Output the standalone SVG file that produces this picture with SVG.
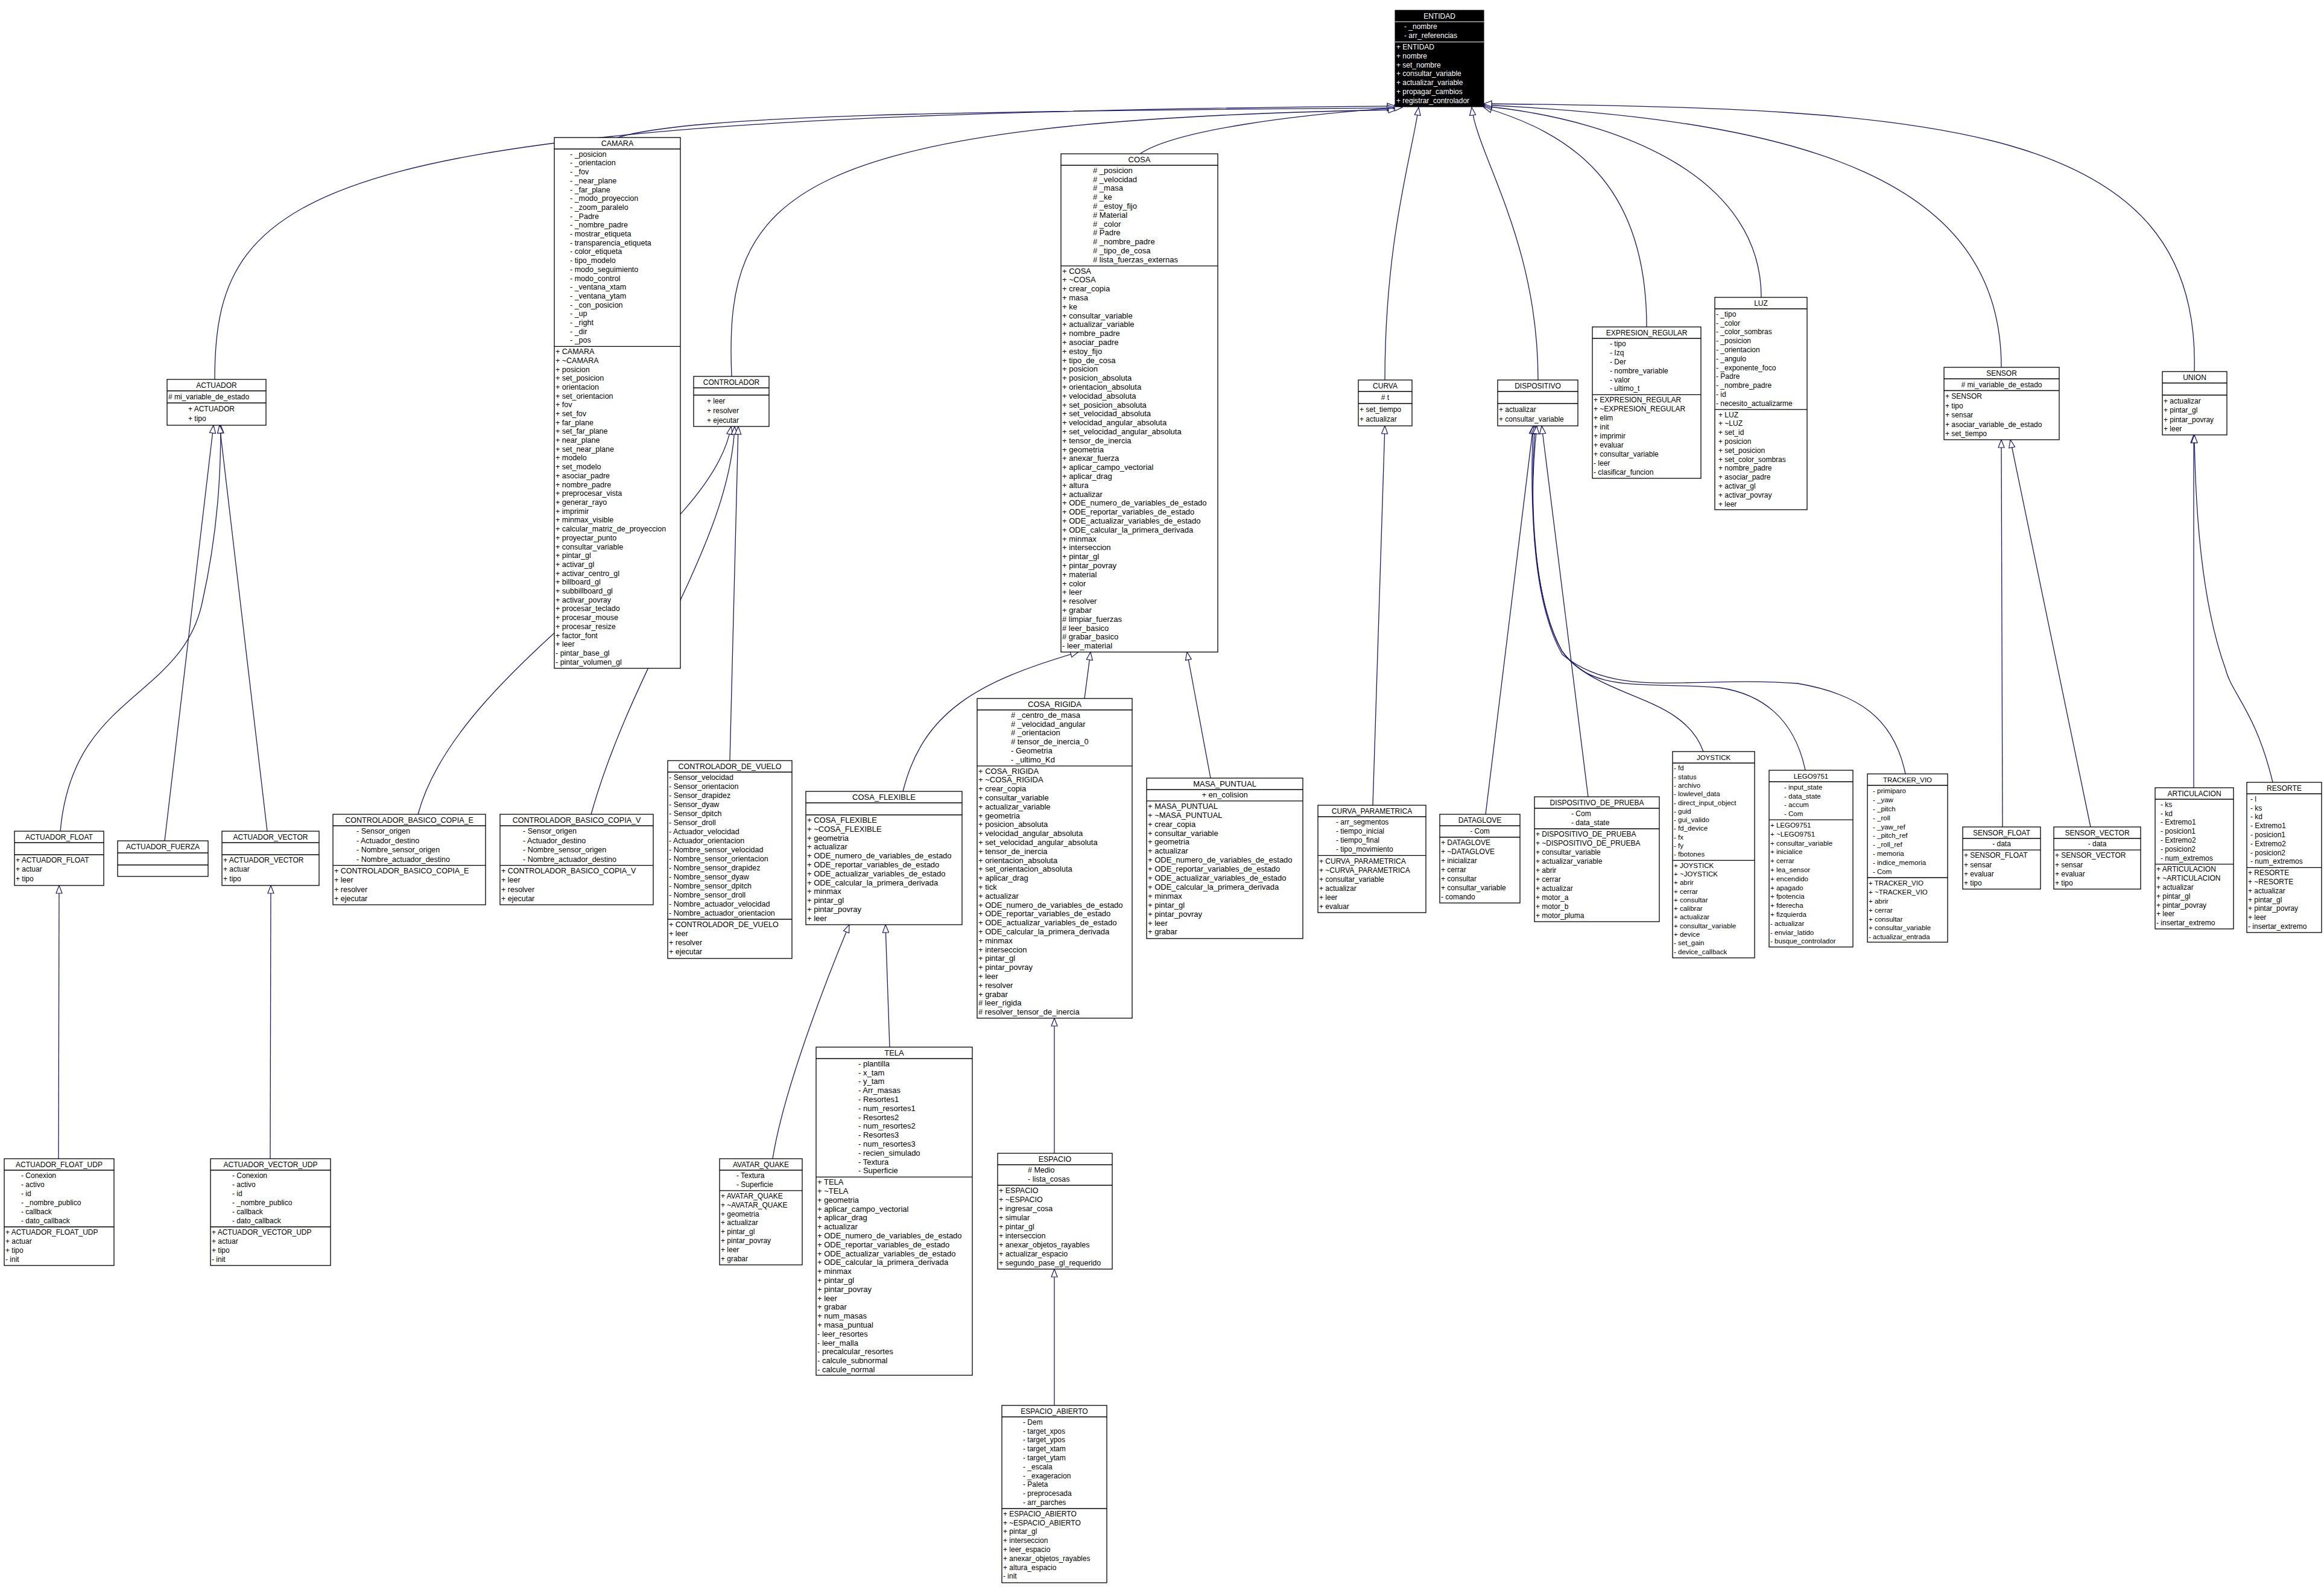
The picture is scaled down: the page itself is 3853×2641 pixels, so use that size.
<svg xmlns="http://www.w3.org/2000/svg" width="3853" height="2641" viewBox="0 0 3853 2641">
<style>
text{font-family:"Liberation Sans",Arial,sans-serif;fill:#000}
.b{fill:#fff;stroke:#000;stroke-width:1.3}
.s{stroke:#000;stroke-width:1.3;fill:none}
.t{text-anchor:middle}
.c{text-anchor:middle}
#edges path{fill:none;stroke:#191970;stroke-width:1.3;marker-end:url(#h)}
</style>
<defs>
<marker id="h" markerWidth="15" markerHeight="12" refX="14" refY="6" orient="auto" markerUnits="userSpaceOnUse"><path d="M1,1 L14,6 L1,11 Z" fill="#fff" stroke="#191970" stroke-width="1.2"/></marker>
</defs>
<rect width="3853" height="2641" fill="#fff"/>

<g id="edges">
<path d="M356 629 C356 300 520 190 2313 176"/>
<path d="M1024 228 C1150 190 1600 184 2313 179"/>
<path d="M1213 624 C1200 320 1300 200 2315 182"/>
<path d="M1890 255 C1950 215 2150 190 2325 178"/>
<path d="M2296 630 C2296 400 2340 260 2352 178"/>
<path d="M2550 630 C2550 400 2450 260 2440 178"/>
<path d="M2730 542 C2730 300 2600 220 2460 178"/>
<path d="M2920 493 C2920 300 2700 200 2460 176"/>
<path d="M3318 609 C3318 300 3000 200 2460 174"/>
<path d="M3638 616 C3650 200 3200 180 2460 172"/>
<path d="M100 1378 C120 1150 300 1160 335 1000 C362 880 366 780 366 705"/>
<path d="M273 1394 L354 705"/>
<path d="M443 1378 L364 705"/>
<path d="M97 1921 L98 1468"/>
<path d="M448 1921 L449 1468"/>
<path d="M693 1350 C760 1100 1180 900 1212 707"/>
<path d="M980 1350 C1050 1100 1210 900 1218 707"/>
<path d="M1210 1261 L1224 707"/>
<path d="M1497 1312 C1530 1180 1620 1130 1788 1081"/>
<path d="M1798 1158 L1808 1081"/>
<path d="M2007 1290 L1968 1081"/>
<path d="M1281 1921 C1300 1800 1380 1600 1408 1533"/>
<path d="M1475 1736 L1468 1533"/>
<path d="M1748 1912 L1748 1688"/>
<path d="M1748 2330 L1748 2104"/>
<path d="M2276 1335 L2296 706"/>
<path d="M2463 1350 L2542 706"/>
<path d="M2633 1321 L2556 706"/>
<path d="M2824 1246 C2790 1150 2650 1160 2590 1080 C2545 1000 2535 850 2542 706"/>
<path d="M2993 1277 C2975 1190 2920 1150 2850 1140 C2720 1130 2640 1150 2590 1080 C2545 1000 2535 850 2545 706"/>
<path d="M3159 1283 C3140 1190 3080 1150 2980 1133 C2800 1120 2680 1160 2590 1085 C2545 1005 2532 850 2548 706"/>
<path d="M3320 1371 L3318 729"/>
<path d="M3466 1371 L3333 729"/>
<path d="M3637 1306 L3637 721"/>
<path d="M3768 1297 C3740 1180 3700 1150 3690 1110 C3650 1000 3640 850 3638 721"/>
</g>

<g id="ENTIDAD" font-size="12">
<rect x="2313" y="17" width="147" height="160" fill="#000" stroke="#000"/>
<path d="M2313 36 h147 M2313 69.6 h147" stroke="#fff"/>
<text class="t" x="2386.5" y="31" style="fill:#fff">ENTIDAD</text>
<text x="2328" y="48" style="fill:#fff"><tspan>- _nombre</tspan><tspan x="2328" dy="14.8">- arr_referencias</tspan></text>
<text x="2315" y="82" style="fill:#fff"><tspan>+ ENTIDAD</tspan><tspan x="2315" dy="14.8">+ nombre</tspan><tspan x="2315" dy="14.8">+ set_nombre</tspan><tspan x="2315" dy="14.8">+ consultar_variable</tspan><tspan x="2315" dy="14.8">+ actualizar_variable</tspan><tspan x="2315" dy="14.8">+ propagar_cambios</tspan><tspan x="2315" dy="14.8">+ registrar_controlador</tspan></text>
</g>

<g id="CAMARA" font-size="12.5">
<rect class="b" x="919" y="228" width="209" height="880"/>
<path class="s" d="M919 247 h209 M919 574.4 h209"/>
<text class="t" x="1023.5" y="242">CAMARA</text>
<text x="945" y="259.7"><tspan>- _posicion</tspan><tspan x="945" dy="14.7">- _orientacion</tspan><tspan x="945" dy="14.7">- _fov</tspan><tspan x="945" dy="14.7">- _near_plane</tspan><tspan x="945" dy="14.7">- _far_plane</tspan><tspan x="945" dy="14.7">- _modo_proyeccion</tspan><tspan x="945" dy="14.7">- _zoom_paralelo</tspan><tspan x="945" dy="14.7">- _Padre</tspan><tspan x="945" dy="14.7">- _nombre_padre</tspan><tspan x="945" dy="14.7">- mostrar_etiqueta</tspan><tspan x="945" dy="14.7">- transparencia_etiqueta</tspan><tspan x="945" dy="14.7">- color_etiqueta</tspan><tspan x="945" dy="14.7">- tipo_modelo</tspan><tspan x="945" dy="14.7">- modo_seguimiento</tspan><tspan x="945" dy="14.7">- modo_control</tspan><tspan x="945" dy="14.7">- _ventana_xtam</tspan><tspan x="945" dy="14.7">- _ventana_ytam</tspan><tspan x="945" dy="14.7">- _con_posicion</tspan><tspan x="945" dy="14.7">- _up</tspan><tspan x="945" dy="14.7">- _right</tspan><tspan x="945" dy="14.7">- _dir</tspan><tspan x="945" dy="14.7">- _pos</tspan></text>
<text x="921" y="587.1"><tspan>+ CAMARA</tspan><tspan x="921" dy="14.7">+ ~CAMARA</tspan><tspan x="921" dy="14.7">+ posicion</tspan><tspan x="921" dy="14.7">+ set_posicion</tspan><tspan x="921" dy="14.7">+ orientacion</tspan><tspan x="921" dy="14.7">+ set_orientacion</tspan><tspan x="921" dy="14.7">+ fov</tspan><tspan x="921" dy="14.7">+ set_fov</tspan><tspan x="921" dy="14.7">+ far_plane</tspan><tspan x="921" dy="14.7">+ set_far_plane</tspan><tspan x="921" dy="14.7">+ near_plane</tspan><tspan x="921" dy="14.7">+ set_near_plane</tspan><tspan x="921" dy="14.7">+ modelo</tspan><tspan x="921" dy="14.7">+ set_modelo</tspan><tspan x="921" dy="14.7">+ asociar_padre</tspan><tspan x="921" dy="14.7">+ nombre_padre</tspan><tspan x="921" dy="14.7">+ preprocesar_vista</tspan><tspan x="921" dy="14.7">+ generar_rayo</tspan><tspan x="921" dy="14.7">+ imprimir</tspan><tspan x="921" dy="14.7">+ minmax_visible</tspan><tspan x="921" dy="14.7">+ calcular_matriz_de_proyeccion</tspan><tspan x="921" dy="14.7">+ proyectar_punto</tspan><tspan x="921" dy="14.7">+ consultar_variable</tspan><tspan x="921" dy="14.7">+ pintar_gl</tspan><tspan x="921" dy="14.7">+ activar_gl</tspan><tspan x="921" dy="14.7">+ activar_centro_gl</tspan><tspan x="921" dy="14.7">+ billboard_gl</tspan><tspan x="921" dy="14.7">+ subbillboard_gl</tspan><tspan x="921" dy="14.7">+ activar_povray</tspan><tspan x="921" dy="14.7">+ procesar_teclado</tspan><tspan x="921" dy="14.7">+ procesar_mouse</tspan><tspan x="921" dy="14.7">+ procesar_resize</tspan><tspan x="921" dy="14.7">+ factor_font</tspan><tspan x="921" dy="14.7">+ leer</tspan><tspan x="921" dy="14.7">- pintar_base_gl</tspan><tspan x="921" dy="14.7">- pintar_volumen_gl</tspan></text>
</g>

<g id="COSA" font-size="13">
<rect class="b" x="1759" y="255" width="260" height="826"/>
<path class="s" d="M1759 274 h260 M1759 440.8 h260"/>
<text class="t" x="1889" y="269">COSA</text>
<text x="1812" y="286.8"><tspan># _posicion</tspan><tspan x="1812" dy="14.8"># _velocidad</tspan><tspan x="1812" dy="14.8"># _masa</tspan><tspan x="1812" dy="14.8"># _ke</tspan><tspan x="1812" dy="14.8"># _estoy_fijo</tspan><tspan x="1812" dy="14.8"># Material</tspan><tspan x="1812" dy="14.8"># _color</tspan><tspan x="1812" dy="14.8"># Padre</tspan><tspan x="1812" dy="14.8"># _nombre_padre</tspan><tspan x="1812" dy="14.8"># _tipo_de_cosa</tspan><tspan x="1812" dy="14.8"># lista_fuerzas_externas</tspan></text>
<text x="1761" y="453.6"><tspan>+ COSA</tspan><tspan x="1761" dy="14.8">+ ~COSA</tspan><tspan x="1761" dy="14.8">+ crear_copia</tspan><tspan x="1761" dy="14.8">+ masa</tspan><tspan x="1761" dy="14.8">+ ke</tspan><tspan x="1761" dy="14.8">+ consultar_variable</tspan><tspan x="1761" dy="14.8">+ actualizar_variable</tspan><tspan x="1761" dy="14.8">+ nombre_padre</tspan><tspan x="1761" dy="14.8">+ asociar_padre</tspan><tspan x="1761" dy="14.8">+ estoy_fijo</tspan><tspan x="1761" dy="14.8">+ tipo_de_cosa</tspan><tspan x="1761" dy="14.8">+ posicion</tspan><tspan x="1761" dy="14.8">+ posicion_absoluta</tspan><tspan x="1761" dy="14.8">+ orientacion_absoluta</tspan><tspan x="1761" dy="14.8">+ velocidad_absoluta</tspan><tspan x="1761" dy="14.8">+ set_posicion_absoluta</tspan><tspan x="1761" dy="14.8">+ set_velocidad_absoluta</tspan><tspan x="1761" dy="14.8">+ velocidad_angular_absoluta</tspan><tspan x="1761" dy="14.8">+ set_velocidad_angular_absoluta</tspan><tspan x="1761" dy="14.8">+ tensor_de_inercia</tspan><tspan x="1761" dy="14.8">+ geometria</tspan><tspan x="1761" dy="14.8">+ anexar_fuerza</tspan><tspan x="1761" dy="14.8">+ aplicar_campo_vectorial</tspan><tspan x="1761" dy="14.8">+ aplicar_drag</tspan><tspan x="1761" dy="14.8">+ altura</tspan><tspan x="1761" dy="14.8">+ actualizar</tspan><tspan x="1761" dy="14.8">+ ODE_numero_de_variables_de_estado</tspan><tspan x="1761" dy="14.8">+ ODE_reportar_variables_de_estado</tspan><tspan x="1761" dy="14.8">+ ODE_actualizar_variables_de_estado</tspan><tspan x="1761" dy="14.8">+ ODE_calcular_la_primera_derivada</tspan><tspan x="1761" dy="14.8">+ minmax</tspan><tspan x="1761" dy="14.8">+ interseccion</tspan><tspan x="1761" dy="14.8">+ pintar_gl</tspan><tspan x="1761" dy="14.8">+ pintar_povray</tspan><tspan x="1761" dy="14.8">+ material</tspan><tspan x="1761" dy="14.8">+ color</tspan><tspan x="1761" dy="14.8">+ leer</tspan><tspan x="1761" dy="14.8">+ resolver</tspan><tspan x="1761" dy="14.8">+ grabar</tspan><tspan x="1761" dy="14.8"># limpiar_fuerzas</tspan><tspan x="1761" dy="14.8"># leer_basico</tspan><tspan x="1761" dy="14.8"># grabar_basico</tspan><tspan x="1761" dy="14.8">- leer_material</tspan></text>
</g>

<g id="CONTROLADOR" font-size="12">
<rect class="b" x="1150" y="624" width="125" height="83"/>
<path class="s" d="M1150 643 h125 M1150 655 h125"/>
<text class="t" x="1212.5" y="638">CONTROLADOR</text>
<text x="1172" y="669"><tspan>+ leer</tspan><tspan x="1172" dy="16">+ resolver</tspan><tspan x="1172" dy="16">+ ejecutar</tspan></text>
</g>

<g id="ACTUADOR" font-size="12">
<rect class="b" x="277" y="629" width="164" height="76"/>
<path class="s" d="M277 648 h164 M277 668 h164"/>
<text class="t" x="359" y="643">ACTUADOR</text>
<text x="279" y="662"># mi_variable_de_estado</text>
<text x="312" y="682"><tspan>+ ACTUADOR</tspan><tspan x="312" dy="16">+ tipo</tspan></text>
</g>

<g id="ACTUADOR_FLOAT" font-size="12">
<rect class="b" x="24" y="1378" width="148" height="90"/>
<path class="s" d="M24 1397 h148 M24 1417 h148"/>
<text class="t" x="98" y="1392">ACTUADOR_FLOAT</text>
<text x="26" y="1430"><tspan>+ ACTUADOR_FLOAT</tspan><tspan x="26" dy="15.3">+ actuar</tspan><tspan x="26" dy="15.3">+ tipo</tspan></text>
</g>

<g id="ACTUADOR_FUERZA" font-size="12">
<rect class="b" x="195" y="1394" width="150" height="59"/>
<path class="s" d="M195 1414 h150 M195 1434 h150"/>
<text class="t" x="270" y="1408">ACTUADOR_FUERZA</text>
</g>

<g id="ACTUADOR_VECTOR" font-size="12">
<rect class="b" x="368" y="1378" width="161" height="90"/>
<path class="s" d="M368 1397 h161 M368 1417 h161"/>
<text class="t" x="448.5" y="1392">ACTUADOR_VECTOR</text>
<text x="370" y="1430"><tspan>+ ACTUADOR_VECTOR</tspan><tspan x="370" dy="15.3">+ actuar</tspan><tspan x="370" dy="15.3">+ tipo</tspan></text>
</g>

<g id="ACTUADOR_FLOAT_UDP" font-size="12">
<rect class="b" x="7" y="1921" width="182" height="177"/>
<path class="s" d="M7 1940 h182 M7 2034 h182"/>
<text class="t" x="98" y="1935">ACTUADOR_FLOAT_UDP</text>
<text x="35" y="1953"><tspan>- Conexion</tspan><tspan x="35" dy="15">- activo</tspan><tspan x="35" dy="15">- id</tspan><tspan x="35" dy="15">- _nombre_publico</tspan><tspan x="35" dy="15">- callback</tspan><tspan x="35" dy="15">- dato_callback</tspan></text>
<text x="9" y="2047"><tspan>+ ACTUADOR_FLOAT_UDP</tspan><tspan x="9" dy="15">+ actuar</tspan><tspan x="9" dy="15">+ tipo</tspan><tspan x="9" dy="15">- init</tspan></text>
</g>

<g id="ACTUADOR_VECTOR_UDP" font-size="12">
<rect class="b" x="349" y="1921" width="199" height="177"/>
<path class="s" d="M349 1940 h199 M349 2034 h199"/>
<text class="t" x="448.5" y="1935">ACTUADOR_VECTOR_UDP</text>
<text x="385" y="1953"><tspan>- Conexion</tspan><tspan x="385" dy="15">- activo</tspan><tspan x="385" dy="15">- id</tspan><tspan x="385" dy="15">- _nombre_publico</tspan><tspan x="385" dy="15">- callback</tspan><tspan x="385" dy="15">- dato_callback</tspan></text>
<text x="351" y="2047"><tspan>+ ACTUADOR_VECTOR_UDP</tspan><tspan x="351" dy="15">+ actuar</tspan><tspan x="351" dy="15">+ tipo</tspan><tspan x="351" dy="15">- init</tspan></text>
</g>

<g id="CONTROLADOR_BASICO_COPIA_E" font-size="12.5">
<rect class="b" x="552" y="1350" width="253" height="150"/>
<path class="s" d="M552 1369 h253 M552 1434.6 h253"/>
<text class="t" x="678.5" y="1364">CONTROLADOR_BASICO_COPIA_E</text>
<text x="591" y="1382.4"><tspan>- Sensor_origen</tspan><tspan x="591" dy="15.4">- Actuador_destino</tspan><tspan x="591" dy="15.4">- Nombre_sensor_origen</tspan><tspan x="591" dy="15.4">- Nombre_actuador_destino</tspan></text>
<text x="554" y="1448"><tspan>+ CONTROLADOR_BASICO_COPIA_E</tspan><tspan x="554" dy="15.4">+ leer</tspan><tspan x="554" dy="15.4">+ resolver</tspan><tspan x="554" dy="15.4">+ ejecutar</tspan></text>
</g>

<g id="CONTROLADOR_BASICO_COPIA_V" font-size="12.5">
<rect class="b" x="829" y="1350" width="254" height="150"/>
<path class="s" d="M829 1369 h254 M829 1434.6 h254"/>
<text class="t" x="956" y="1364">CONTROLADOR_BASICO_COPIA_V</text>
<text x="867" y="1382.4"><tspan>- Sensor_origen</tspan><tspan x="867" dy="15.4">- Actuador_destino</tspan><tspan x="867" dy="15.4">- Nombre_sensor_origen</tspan><tspan x="867" dy="15.4">- Nombre_actuador_destino</tspan></text>
<text x="831" y="1448"><tspan>+ CONTROLADOR_BASICO_COPIA_V</tspan><tspan x="831" dy="15.4">+ leer</tspan><tspan x="831" dy="15.4">+ resolver</tspan><tspan x="831" dy="15.4">+ ejecutar</tspan></text>
</g>

<g id="CONTROLADOR_DE_VUELO" font-size="12.5">
<rect class="b" x="1107" y="1261" width="206" height="328"/>
<path class="s" d="M1107 1280 h206 M1107 1524 h206"/>
<text class="t" x="1210" y="1275">CONTROLADOR_DE_VUELO</text>
<text x="1109" y="1293"><tspan>- Sensor_velocidad</tspan><tspan x="1109" dy="15">- Sensor_orientacion</tspan><tspan x="1109" dy="15">- Sensor_drapidez</tspan><tspan x="1109" dy="15">- Sensor_dyaw</tspan><tspan x="1109" dy="15">- Sensor_dpitch</tspan><tspan x="1109" dy="15">- Sensor_droll</tspan><tspan x="1109" dy="15">- Actuador_velocidad</tspan><tspan x="1109" dy="15">- Actuador_orientacion</tspan><tspan x="1109" dy="15">- Nombre_sensor_velocidad</tspan><tspan x="1109" dy="15">- Nombre_sensor_orientacion</tspan><tspan x="1109" dy="15">- Nombre_sensor_drapidez</tspan><tspan x="1109" dy="15">- Nombre_sensor_dyaw</tspan><tspan x="1109" dy="15">- Nombre_sensor_dpitch</tspan><tspan x="1109" dy="15">- Nombre_sensor_droll</tspan><tspan x="1109" dy="15">- Nombre_actuador_velocidad</tspan><tspan x="1109" dy="15">- Nombre_actuador_orientacion</tspan></text>
<text x="1109" y="1537"><tspan>+ CONTROLADOR_DE_VUELO</tspan><tspan x="1109" dy="15">+ leer</tspan><tspan x="1109" dy="15">+ resolver</tspan><tspan x="1109" dy="15">+ ejecutar</tspan></text>
</g>

<g id="COSA_FLEXIBLE" font-size="13">
<rect class="b" x="1336" y="1312" width="259" height="221"/>
<path class="s" d="M1336 1331 h259 M1336 1351 h259"/>
<text class="t" x="1465.5" y="1326">COSA_FLEXIBLE</text>
<text x="1338" y="1364"><tspan>+ COSA_FLEXIBLE</tspan><tspan x="1338" dy="14.8">+ ~COSA_FLEXIBLE</tspan><tspan x="1338" dy="14.8">+ geometria</tspan><tspan x="1338" dy="14.8">+ actualizar</tspan><tspan x="1338" dy="14.8">+ ODE_numero_de_variables_de_estado</tspan><tspan x="1338" dy="14.8">+ ODE_reportar_variables_de_estado</tspan><tspan x="1338" dy="14.8">+ ODE_actualizar_variables_de_estado</tspan><tspan x="1338" dy="14.8">+ ODE_calcular_la_primera_derivada</tspan><tspan x="1338" dy="14.8">+ minmax</tspan><tspan x="1338" dy="14.8">+ pintar_gl</tspan><tspan x="1338" dy="14.8">+ pintar_povray</tspan><tspan x="1338" dy="14.8">+ leer</tspan></text>
</g>

<g id="COSA_RIGIDA" font-size="13">
<rect class="b" x="1620" y="1158" width="257" height="530"/>
<path class="s" d="M1620 1177 h257 M1620 1269.8 h257"/>
<text class="t" x="1748.5" y="1172">COSA_RIGIDA</text>
<text x="1676" y="1189.8"><tspan># _centro_de_masa</tspan><tspan x="1676" dy="14.8"># _velocidad_angular</tspan><tspan x="1676" dy="14.8"># _orientacion</tspan><tspan x="1676" dy="14.8"># tensor_de_inercia_0</tspan><tspan x="1676" dy="14.8">- Geometria</tspan><tspan x="1676" dy="14.8">- _ultimo_Kd</tspan></text>
<text x="1622" y="1282.6"><tspan>+ COSA_RIGIDA</tspan><tspan x="1622" dy="14.8">+ ~COSA_RIGIDA</tspan><tspan x="1622" dy="14.8">+ crear_copia</tspan><tspan x="1622" dy="14.8">+ consultar_variable</tspan><tspan x="1622" dy="14.8">+ actualizar_variable</tspan><tspan x="1622" dy="14.8">+ geometria</tspan><tspan x="1622" dy="14.8">+ posicion_absoluta</tspan><tspan x="1622" dy="14.8">+ velocidad_angular_absoluta</tspan><tspan x="1622" dy="14.8">+ set_velocidad_angular_absoluta</tspan><tspan x="1622" dy="14.8">+ tensor_de_inercia</tspan><tspan x="1622" dy="14.8">+ orientacion_absoluta</tspan><tspan x="1622" dy="14.8">+ set_orientacion_absoluta</tspan><tspan x="1622" dy="14.8">+ aplicar_drag</tspan><tspan x="1622" dy="14.8">+ tick</tspan><tspan x="1622" dy="14.8">+ actualizar</tspan><tspan x="1622" dy="14.8">+ ODE_numero_de_variables_de_estado</tspan><tspan x="1622" dy="14.8">+ ODE_reportar_variables_de_estado</tspan><tspan x="1622" dy="14.8">+ ODE_actualizar_variables_de_estado</tspan><tspan x="1622" dy="14.8">+ ODE_calcular_la_primera_derivada</tspan><tspan x="1622" dy="14.8">+ minmax</tspan><tspan x="1622" dy="14.8">+ interseccion</tspan><tspan x="1622" dy="14.8">+ pintar_gl</tspan><tspan x="1622" dy="14.8">+ pintar_povray</tspan><tspan x="1622" dy="14.8">+ leer</tspan><tspan x="1622" dy="14.8">+ resolver</tspan><tspan x="1622" dy="14.8">+ grabar</tspan><tspan x="1622" dy="14.8"># leer_rigida</tspan><tspan x="1622" dy="14.8"># resolver_tensor_de_inercia</tspan></text>
</g>

<g id="MASA_PUNTUAL" font-size="13">
<rect class="b" x="1901" y="1290" width="259" height="266"/>
<path class="s" d="M1901 1309 h259 M1901 1327.9 h259"/>
<text class="t" x="2030.5" y="1304">MASA_PUNTUAL</text>
<text class="c" x="2030.5" y="1322">+ en_colision</text>
<text x="1903" y="1340.8"><tspan>+ MASA_PUNTUAL</tspan><tspan x="1903" dy="14.9">+ ~MASA_PUNTUAL</tspan><tspan x="1903" dy="14.9">+ crear_copia</tspan><tspan x="1903" dy="14.9">+ consultar_variable</tspan><tspan x="1903" dy="14.9">+ geometria</tspan><tspan x="1903" dy="14.9">+ actualizar</tspan><tspan x="1903" dy="14.9">+ ODE_numero_de_variables_de_estado</tspan><tspan x="1903" dy="14.9">+ ODE_reportar_variables_de_estado</tspan><tspan x="1903" dy="14.9">+ ODE_actualizar_variables_de_estado</tspan><tspan x="1903" dy="14.9">+ ODE_calcular_la_primera_derivada</tspan><tspan x="1903" dy="14.9">+ minmax</tspan><tspan x="1903" dy="14.9">+ pintar_gl</tspan><tspan x="1903" dy="14.9">+ pintar_povray</tspan><tspan x="1903" dy="14.9">+ leer</tspan><tspan x="1903" dy="14.9">+ grabar</tspan></text>
</g>

<g id="AVATAR_QUAKE" font-size="12">
<rect class="b" x="1193" y="1921" width="137" height="176"/>
<path class="s" d="M1193 1940 h137 M1193 1973.8 h137"/>
<text class="t" x="1261.5" y="1935">AVATAR_QUAKE</text>
<text x="1221" y="1953"><tspan>- Textura</tspan><tspan x="1221" dy="14.9">- Superficie</tspan></text>
<text x="1195" y="1986.7"><tspan>+ AVATAR_QUAKE</tspan><tspan x="1195" dy="14.9">+ ~AVATAR_QUAKE</tspan><tspan x="1195" dy="14.9">+ geometria</tspan><tspan x="1195" dy="14.9">+ actualizar</tspan><tspan x="1195" dy="14.9">+ pintar_gl</tspan><tspan x="1195" dy="14.9">+ pintar_povray</tspan><tspan x="1195" dy="14.9">+ leer</tspan><tspan x="1195" dy="14.9">+ grabar</tspan></text>
</g>

<g id="TELA" font-size="13">
<rect class="b" x="1353" y="1736" width="259" height="544"/>
<path class="s" d="M1353 1755 h259 M1353 1951.4 h259"/>
<text class="t" x="1482.5" y="1750">TELA</text>
<text x="1423" y="1767.8"><tspan>- plantilla</tspan><tspan x="1423" dy="14.8">- x_tam</tspan><tspan x="1423" dy="14.8">- y_tam</tspan><tspan x="1423" dy="14.8">- Arr_masas</tspan><tspan x="1423" dy="14.8">- Resortes1</tspan><tspan x="1423" dy="14.8">- num_resortes1</tspan><tspan x="1423" dy="14.8">- Resortes2</tspan><tspan x="1423" dy="14.8">- num_resortes2</tspan><tspan x="1423" dy="14.8">- Resortes3</tspan><tspan x="1423" dy="14.8">- num_resortes3</tspan><tspan x="1423" dy="14.8">- recien_simulado</tspan><tspan x="1423" dy="14.8">- Textura</tspan><tspan x="1423" dy="14.8">- Superficie</tspan></text>
<text x="1355" y="1964.2"><tspan>+ TELA</tspan><tspan x="1355" dy="14.8">+ ~TELA</tspan><tspan x="1355" dy="14.8">+ geometria</tspan><tspan x="1355" dy="14.8">+ aplicar_campo_vectorial</tspan><tspan x="1355" dy="14.8">+ aplicar_drag</tspan><tspan x="1355" dy="14.8">+ actualizar</tspan><tspan x="1355" dy="14.8">+ ODE_numero_de_variables_de_estado</tspan><tspan x="1355" dy="14.8">+ ODE_reportar_variables_de_estado</tspan><tspan x="1355" dy="14.8">+ ODE_actualizar_variables_de_estado</tspan><tspan x="1355" dy="14.8">+ ODE_calcular_la_primera_derivada</tspan><tspan x="1355" dy="14.8">+ minmax</tspan><tspan x="1355" dy="14.8">+ pintar_gl</tspan><tspan x="1355" dy="14.8">+ pintar_povray</tspan><tspan x="1355" dy="14.8">+ leer</tspan><tspan x="1355" dy="14.8">+ grabar</tspan><tspan x="1355" dy="14.8">+ num_masas</tspan><tspan x="1355" dy="14.8">+ masa_puntual</tspan><tspan x="1355" dy="14.8">- leer_resortes</tspan><tspan x="1355" dy="14.8">- leer_malla</tspan><tspan x="1355" dy="14.8">- precalcular_resortes</tspan><tspan x="1355" dy="14.8">- calcule_subnormal</tspan><tspan x="1355" dy="14.8">- calcule_normal</tspan></text>
</g>

<g id="ESPACIO" font-size="12.5">
<rect class="b" x="1654" y="1912" width="190" height="192"/>
<path class="s" d="M1654 1931 h190 M1654 1965 h190"/>
<text class="t" x="1749" y="1926">ESPACIO</text>
<text x="1704" y="1944"><tspan># Medio</tspan><tspan x="1704" dy="15">- lista_cosas</tspan></text>
<text x="1656" y="1978"><tspan>+ ESPACIO</tspan><tspan x="1656" dy="15">+ ~ESPACIO</tspan><tspan x="1656" dy="15">+ ingresar_cosa</tspan><tspan x="1656" dy="15">+ simular</tspan><tspan x="1656" dy="15">+ pintar_gl</tspan><tspan x="1656" dy="15">+ interseccion</tspan><tspan x="1656" dy="15">+ anexar_objetos_rayables</tspan><tspan x="1656" dy="15">+ actualizar_espacio</tspan><tspan x="1656" dy="15">+ segundo_pase_gl_requerido</tspan></text>
</g>

<g id="ESPACIO_ABIERTO" font-size="12">
<rect class="b" x="1661" y="2330" width="174" height="294"/>
<path class="s" d="M1661 2349 h174 M1661 2501 h174"/>
<text class="t" x="1748" y="2344">ESPACIO_ABIERTO</text>
<text x="1696" y="2361.8"><tspan>- Dem</tspan><tspan x="1696" dy="14.8">- target_xpos</tspan><tspan x="1696" dy="14.8">- target_ypos</tspan><tspan x="1696" dy="14.8">- target_xtam</tspan><tspan x="1696" dy="14.8">- target_ytam</tspan><tspan x="1696" dy="14.8">- _escala</tspan><tspan x="1696" dy="14.8">- _exageracion</tspan><tspan x="1696" dy="14.8">- Paleta</tspan><tspan x="1696" dy="14.8">- preprocesada</tspan><tspan x="1696" dy="14.8">- arr_parches</tspan></text>
<text x="1663" y="2513.8"><tspan>+ ESPACIO_ABIERTO</tspan><tspan x="1663" dy="14.8">+ ~ESPACIO_ABIERTO</tspan><tspan x="1663" dy="14.8">+ pintar_gl</tspan><tspan x="1663" dy="14.8">+ interseccion</tspan><tspan x="1663" dy="14.8">+ leer_espacio</tspan><tspan x="1663" dy="14.8">+ anexar_objetos_rayables</tspan><tspan x="1663" dy="14.8">+ altura_espacio</tspan><tspan x="1663" dy="14.8">- init</tspan></text>
</g>

<g id="CURVA" font-size="12">
<rect class="b" x="2252" y="630" width="89" height="76"/>
<path class="s" d="M2252 649 h89 M2252 669 h89"/>
<text class="t" x="2296.5" y="644">CURVA</text>
<text class="c" x="2296.5" y="663"># t</text>
<text x="2254" y="683"><tspan>+ set_tiempo</tspan><tspan x="2254" dy="16">+ actualizar</tspan></text>
</g>

<g id="DISPOSITIVO" font-size="12">
<rect class="b" x="2483" y="630" width="133" height="76"/>
<path class="s" d="M2483 649 h133 M2483 669 h133"/>
<text class="t" x="2549.5" y="644">DISPOSITIVO</text>
<text x="2485" y="683"><tspan>+ actualizar</tspan><tspan x="2485" dy="16">+ consultar_variable</tspan></text>
</g>

<g id="CURVA_PARAMETRICA" font-size="12">
<rect class="b" x="2185" y="1335" width="179" height="178"/>
<path class="s" d="M2185 1354 h179 M2185 1418.4 h179"/>
<text class="t" x="2274.5" y="1349">CURVA_PARAMETRICA</text>
<text x="2215" y="1367"><tspan>- arr_segmentos</tspan><tspan x="2215" dy="15.1">- tiempo_inicial</tspan><tspan x="2215" dy="15.1">- tiempo_final</tspan><tspan x="2215" dy="15.1">- tipo_movimiento</tspan></text>
<text x="2187" y="1431.5"><tspan>+ CURVA_PARAMETRICA</tspan><tspan x="2187" dy="15.1">+ ~CURVA_PARAMETRICA</tspan><tspan x="2187" dy="15.1">+ consultar_variable</tspan><tspan x="2187" dy="15.1">+ actualizar</tspan><tspan x="2187" dy="15.1">+ leer</tspan><tspan x="2187" dy="15.1">+ evaluar</tspan></text>
</g>

<g id="DATAGLOVE" font-size="12">
<rect class="b" x="2387" y="1350" width="133" height="147"/>
<path class="s" d="M2387 1369 h133 M2387 1388 h133"/>
<text class="t" x="2453.5" y="1364">DATAGLOVE</text>
<text class="c" x="2453.5" y="1382">- Com</text>
<text x="2389" y="1401"><tspan>+ DATAGLOVE</tspan><tspan x="2389" dy="15">+ ~DATAGLOVE</tspan><tspan x="2389" dy="15">+ inicializar</tspan><tspan x="2389" dy="15">+ cerrar</tspan><tspan x="2389" dy="15">+ consultar</tspan><tspan x="2389" dy="15">+ consultar_variable</tspan><tspan x="2389" dy="15">- comando</tspan></text>
</g>

<g id="DISPOSITIVO_DE_PRUEBA" font-size="12">
<rect class="b" x="2544" y="1321" width="207" height="207"/>
<path class="s" d="M2544 1340 h207 M2544 1374 h207"/>
<text class="t" x="2647.5" y="1335">DISPOSITIVO_DE_PRUEBA</text>
<text x="2605" y="1353"><tspan>- Com</tspan><tspan x="2605" dy="15">- data_state</tspan></text>
<text x="2546" y="1387"><tspan>+ DISPOSITIVO_DE_PRUEBA</tspan><tspan x="2546" dy="15">+ ~DISPOSITIVO_DE_PRUEBA</tspan><tspan x="2546" dy="15">+ consultar_variable</tspan><tspan x="2546" dy="15">+ actualizar_variable</tspan><tspan x="2546" dy="15">+ abrir</tspan><tspan x="2546" dy="15">+ cerrar</tspan><tspan x="2546" dy="15">+ actualizar</tspan><tspan x="2546" dy="15">+ motor_a</tspan><tspan x="2546" dy="15">+ motor_b</tspan><tspan x="2546" dy="15">+ motor_pluma</tspan></text>
</g>

<g id="EXPRESION_REGULAR" font-size="12">
<rect class="b" x="2640" y="542" width="180" height="251"/>
<path class="s" d="M2640 561 h180 M2640 654.4 h180"/>
<text class="t" x="2730" y="556">EXPRESION_REGULAR</text>
<text x="2669" y="573.9"><tspan>- tipo</tspan><tspan x="2669" dy="14.9">- Izq</tspan><tspan x="2669" dy="14.9">- Der</tspan><tspan x="2669" dy="14.9">- nombre_variable</tspan><tspan x="2669" dy="14.9">- valor</tspan><tspan x="2669" dy="14.9">- ultimo_t</tspan></text>
<text x="2642" y="667.3"><tspan>+ EXPRESION_REGULAR</tspan><tspan x="2642" dy="14.9">+ ~EXPRESION_REGULAR</tspan><tspan x="2642" dy="14.9">+ elim</tspan><tspan x="2642" dy="14.9">+ init</tspan><tspan x="2642" dy="14.9">+ imprimir</tspan><tspan x="2642" dy="14.9">+ evaluar</tspan><tspan x="2642" dy="14.9">+ consultar_variable</tspan><tspan x="2642" dy="14.9">- leer</tspan><tspan x="2642" dy="14.9">- clasificar_funcion</tspan></text>
</g>

<g id="LUZ" font-size="12">
<rect class="b" x="2843" y="493" width="153" height="352"/>
<path class="s" d="M2843 512 h153 M2843 678.8 h153"/>
<text class="t" x="2919.5" y="507">LUZ</text>
<text x="2845" y="524.8"><tspan>- _tipo</tspan><tspan x="2845" dy="14.8">- _color</tspan><tspan x="2845" dy="14.8">- _color_sombras</tspan><tspan x="2845" dy="14.8">- _posicion</tspan><tspan x="2845" dy="14.8">- _orientacion</tspan><tspan x="2845" dy="14.8">- _angulo</tspan><tspan x="2845" dy="14.8">- _exponente_foco</tspan><tspan x="2845" dy="14.8">- Padre</tspan><tspan x="2845" dy="14.8">- _nombre_padre</tspan><tspan x="2845" dy="14.8">- id</tspan><tspan x="2845" dy="14.8">- necesito_actualizarme</tspan></text>
<text x="2849" y="691.6"><tspan>+ LUZ</tspan><tspan x="2849" dy="14.8">+ ~LUZ</tspan><tspan x="2849" dy="14.8">+ set_id</tspan><tspan x="2849" dy="14.8">+ posicion</tspan><tspan x="2849" dy="14.8">+ set_posicion</tspan><tspan x="2849" dy="14.8">+ set_color_sombras</tspan><tspan x="2849" dy="14.8">+ nombre_padre</tspan><tspan x="2849" dy="14.8">+ asociar_padre</tspan><tspan x="2849" dy="14.8">+ activar_gl</tspan><tspan x="2849" dy="14.8">+ activar_povray</tspan><tspan x="2849" dy="14.8">+ leer</tspan></text>
</g>

<g id="JOYSTICK" font-size="11.5">
<rect class="b" x="2773" y="1246" width="136" height="342"/>
<path class="s" d="M2773 1265 h136 M2773 1426.3 h136"/>
<text class="t" x="2841" y="1260">JOYSTICK</text>
<text x="2775" y="1277.3"><tspan>- fd</tspan><tspan x="2775" dy="14.3">- status</tspan><tspan x="2775" dy="14.3">- archivo</tspan><tspan x="2775" dy="14.3">- lowlevel_data</tspan><tspan x="2775" dy="14.3">- direct_input_object</tspan><tspan x="2775" dy="14.3">- guid</tspan><tspan x="2775" dy="14.3">- gui_valido</tspan><tspan x="2775" dy="14.3">- fd_device</tspan><tspan x="2775" dy="14.3">- fx</tspan><tspan x="2775" dy="14.3">- fy</tspan><tspan x="2775" dy="14.3">- fbotones</tspan></text>
<text x="2775" y="1438.6"><tspan>+ JOYSTICK</tspan><tspan x="2775" dy="14.3">+ ~JOYSTICK</tspan><tspan x="2775" dy="14.3">+ abrir</tspan><tspan x="2775" dy="14.3">+ cerrar</tspan><tspan x="2775" dy="14.3">+ consultar</tspan><tspan x="2775" dy="14.3">+ calibrar</tspan><tspan x="2775" dy="14.3">+ actualizar</tspan><tspan x="2775" dy="14.3">+ consultar_variable</tspan><tspan x="2775" dy="14.3">+ device</tspan><tspan x="2775" dy="14.3">- set_gain</tspan><tspan x="2775" dy="14.3">- device_callback</tspan></text>
</g>

<g id="LEGO9751" font-size="11.5">
<rect class="b" x="2933" y="1277" width="139" height="293"/>
<path class="s" d="M2933 1296 h139 M2933 1359.2 h139"/>
<text class="t" x="3002.5" y="1291">LEGO9751</text>
<text x="2958" y="1308.8"><tspan>- input_state</tspan><tspan x="2958" dy="14.8">- data_state</tspan><tspan x="2958" dy="14.8">- accum</tspan><tspan x="2958" dy="14.8">- Com</tspan></text>
<text x="2935" y="1372"><tspan>+ LEGO9751</tspan><tspan x="2935" dy="14.8">+ ~LEGO9751</tspan><tspan x="2935" dy="14.8">+ consultar_variable</tspan><tspan x="2935" dy="14.8">+ inicialice</tspan><tspan x="2935" dy="14.8">+ cerrar</tspan><tspan x="2935" dy="14.8">+ lea_sensor</tspan><tspan x="2935" dy="14.8">+ encendido</tspan><tspan x="2935" dy="14.8">+ apagado</tspan><tspan x="2935" dy="14.8">+ fpotencia</tspan><tspan x="2935" dy="14.8">+ fderecha</tspan><tspan x="2935" dy="14.8">+ fizquierda</tspan><tspan x="2935" dy="14.8">- actualizar</tspan><tspan x="2935" dy="14.8">- enviar_latido</tspan><tspan x="2935" dy="14.8">- busque_controlador</tspan></text>
</g>

<g id="TRACKER_VIO" font-size="11.5">
<rect class="b" x="3096" y="1283" width="133" height="279"/>
<path class="s" d="M3096 1302 h133 M3096 1455 h133"/>
<text class="t" x="3162.5" y="1297">TRACKER_VIO</text>
<text x="3105" y="1314.9"><tspan>- primiparo</tspan><tspan x="3105" dy="14.9">- _yaw</tspan><tspan x="3105" dy="14.9">- _pitch</tspan><tspan x="3105" dy="14.9">- _roll</tspan><tspan x="3105" dy="14.9">- _yaw_ref</tspan><tspan x="3105" dy="14.9">- _pitch_ref</tspan><tspan x="3105" dy="14.9">- _roll_ref</tspan><tspan x="3105" dy="14.9">- memoria</tspan><tspan x="3105" dy="14.9">- indice_memoria</tspan><tspan x="3105" dy="14.9">- Com</tspan></text>
<text x="3098" y="1467.9"><tspan>+ TRACKER_VIO</tspan><tspan x="3098" dy="14.9">+ ~TRACKER_VIO</tspan><tspan x="3098" dy="14.9">+ abrir</tspan><tspan x="3098" dy="14.9">+ cerrar</tspan><tspan x="3098" dy="14.9">+ consultar</tspan><tspan x="3098" dy="14.9">+ consultar_variable</tspan><tspan x="3098" dy="14.9">- actualizar_entrada</tspan></text>
</g>

<g id="SENSOR" font-size="12">
<rect class="b" x="3223" y="609" width="191" height="120"/>
<path class="s" d="M3223 628 h191 M3223 647.5 h191"/>
<text class="t" x="3318.5" y="623">SENSOR</text>
<text class="c" x="3318.5" y="641.5"># mi_variable_de_estado</text>
<text x="3225" y="661"><tspan>+ SENSOR</tspan><tspan x="3225" dy="15.5">+ tipo</tspan><tspan x="3225" dy="15.5">+ sensar</tspan><tspan x="3225" dy="15.5">+ asociar_variable_de_estado</tspan><tspan x="3225" dy="15.5">+ set_tiempo</tspan></text>
</g>

<g id="UNION" font-size="12">
<rect class="b" x="3585" y="616" width="107" height="105"/>
<path class="s" d="M3585 635 h107 M3585 655 h107"/>
<text class="t" x="3638.5" y="630">UNION</text>
<text x="3587" y="668.5"><tspan>+ actualizar</tspan><tspan x="3587" dy="15.5">+ pintar_gl</tspan><tspan x="3587" dy="15.5">+ pintar_povray</tspan><tspan x="3587" dy="15.5">+ leer</tspan></text>
</g>

<g id="SENSOR_FLOAT" font-size="12">
<rect class="b" x="3254" y="1371" width="129" height="103"/>
<path class="s" d="M3254 1390 h129 M3254 1409.2 h129"/>
<text class="t" x="3318.5" y="1385">SENSOR_FLOAT</text>
<text class="c" x="3318.5" y="1403.2">- data</text>
<text x="3256" y="1422.4"><tspan>+ SENSOR_FLOAT</tspan><tspan x="3256" dy="15.2">+ sensar</tspan><tspan x="3256" dy="15.2">+ evaluar</tspan><tspan x="3256" dy="15.2">+ tipo</tspan></text>
</g>

<g id="SENSOR_VECTOR" font-size="12">
<rect class="b" x="3405" y="1371" width="144" height="103"/>
<path class="s" d="M3405 1390 h144 M3405 1409.2 h144"/>
<text class="t" x="3477" y="1385">SENSOR_VECTOR</text>
<text class="c" x="3477" y="1403.2">- data</text>
<text x="3407" y="1422.4"><tspan>+ SENSOR_VECTOR</tspan><tspan x="3407" dy="15.2">+ sensar</tspan><tspan x="3407" dy="15.2">+ evaluar</tspan><tspan x="3407" dy="15.2">+ tipo</tspan></text>
</g>

<g id="ARTICULACION" font-size="12">
<rect class="b" x="3573" y="1306" width="130" height="234"/>
<path class="s" d="M3573 1325 h130 M3573 1432.6 h130"/>
<text class="t" x="3638" y="1320">ARTICULACION</text>
<text x="3582" y="1337.8"><tspan>- ks</tspan><tspan x="3582" dy="14.8">- kd</tspan><tspan x="3582" dy="14.8">- Extremo1</tspan><tspan x="3582" dy="14.8">- posicion1</tspan><tspan x="3582" dy="14.8">- Extremo2</tspan><tspan x="3582" dy="14.8">- posicion2</tspan><tspan x="3582" dy="14.8">- num_extremos</tspan></text>
<text x="3575" y="1445.4"><tspan>+ ARTICULACION</tspan><tspan x="3575" dy="14.8">+ ~ARTICULACION</tspan><tspan x="3575" dy="14.8">+ actualizar</tspan><tspan x="3575" dy="14.8">+ pintar_gl</tspan><tspan x="3575" dy="14.8">+ pintar_povray</tspan><tspan x="3575" dy="14.8">+ leer</tspan><tspan x="3575" dy="14.8">- insertar_extremo</tspan></text>
</g>

<g id="RESORTE" font-size="12">
<rect class="b" x="3725" y="1297" width="124" height="249"/>
<path class="s" d="M3725 1316 h124 M3725 1438.4 h124"/>
<text class="t" x="3787" y="1311">RESORTE</text>
<text x="3731" y="1328.8"><tspan>- l</tspan><tspan x="3731" dy="14.8">- ks</tspan><tspan x="3731" dy="14.8">- kd</tspan><tspan x="3731" dy="14.8">- Extremo1</tspan><tspan x="3731" dy="14.8">- posicion1</tspan><tspan x="3731" dy="14.8">- Extremo2</tspan><tspan x="3731" dy="14.8">- posicion2</tspan><tspan x="3731" dy="14.8">- num_extremos</tspan></text>
<text x="3727" y="1451.2"><tspan>+ RESORTE</tspan><tspan x="3727" dy="14.8">+ ~RESORTE</tspan><tspan x="3727" dy="14.8">+ actualizar</tspan><tspan x="3727" dy="14.8">+ pintar_gl</tspan><tspan x="3727" dy="14.8">+ pintar_povray</tspan><tspan x="3727" dy="14.8">+ leer</tspan><tspan x="3727" dy="14.8">- insertar_extremo</tspan></text>
</g>
</svg>
